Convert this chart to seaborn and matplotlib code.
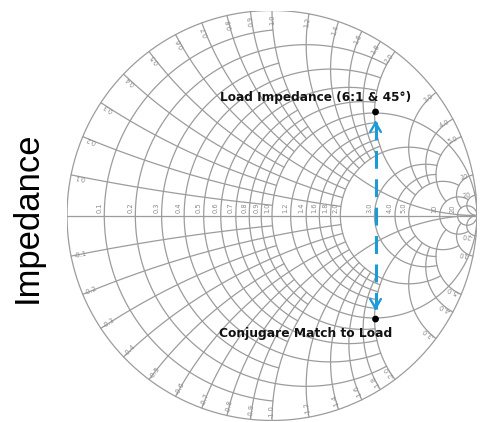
import numpy as np
import pandas as pd
import matplotlib
matplotlib.use("Agg")
import matplotlib.pyplot as plt
import seaborn as sns

# Normalized resistance circles / reactance arcs of the chart and the
# reactance (for circles) or resistance (for arcs) where each one stops.
r_values = [0.1, 0.2, 0.3, 0.4, 0.5, 0.6, 0.7, 0.8, 0.9, 1.0,
            1.2, 1.4, 1.6, 1.8, 2.0, 3.0, 4.0, 5.0, 10.0, 20.0]
r_stops = [1.0, 2.0, 1.0, 2.0, 1.0, 2.0, 1.0, 2.0, 1.0, 1e4,
           2.0, 2.0, 2.0, 2.0, 5.0, 5.0, 5.0, 10.0, 20.0, 1e4]
x_values = [0.1, 0.2, 0.3, 0.4, 0.5, 0.6, 0.7, 0.8, 0.9, 1.0,
            1.2, 1.4, 1.6, 1.8, 2.0, 3.0, 4.0, 5.0, 10.0, 20.0]
x_stops = [1.0, 2.0, 1.0, 2.0, 1.0, 2.0, 1.0, 2.0, 1.0, 1e4,
           2.0, 2.0, 2.0, 2.0, 5.0, 5.0, 5.0, 10.0, 20.0, 1e4]
scale_labels = ["0.1", "0.2", "0.3", "0.4", "0.5", "0.6", "0.7", "0.8", "0.9", "1.0",
                "1.2", "1.4", "1.6", "1.8", "2.0", "3.0", "4.0", "5.0", "10", "20"]

# Load point: VSWR 6:1 at a reflection angle of 45 degrees, and its conjugate
load_vswr = 6.0
load_angle_deg = 45.0
load_text = "Load Impedance (6:1 & 45°)"
match_text = "Conjugare Match to Load"

GRID = "#9c9c9c"
LABEL = "#8a8a8a"
BLUE = "#1e9ad6"

W, H = 481, 422


def gamma(z):
    return (z - 1) / (z + 1)


def param(limit, n=400):
    # parameter samples dense near zero, reaching out to the given limit
    u = np.linspace(0, np.arctan(limit), n)
    return np.tan(u)


rows = []
cid = 0
for r, stop in zip(r_values, r_stops):
    t = param(stop)
    t = np.concatenate([-t[::-1], t[1:]])
    g = gamma(r + 1j * t)
    rows.append(pd.DataFrame({"gx": g.real, "gy": g.imag, "curve": cid}))
    cid += 1
for x, stop in zip(x_values, x_stops):
    s = param(stop)
    for sign in (1, -1):
        g = gamma(s + 1j * sign * x)
        rows.append(pd.DataFrame({"gx": g.real, "gy": g.imag, "curve": cid}))
        cid += 1
ang = np.linspace(0, 2 * np.pi, 721)
rows.append(pd.DataFrame({"gx": np.cos(ang), "gy": np.sin(ang), "curve": cid}))
cid += 1
rows.append(pd.DataFrame({"gx": [-1.0, 1.0], "gy": [0.0, 0.0], "curve": cid}))
grid = pd.concat(rows, ignore_index=True)

sns.set_theme(style="white")
fig = plt.figure(figsize=(W / 100, H / 100), dpi=100)
ax = fig.add_axes([67 / W, 1.5 / H, 410 / W, 410 / H])
ax.set_xlim(-1, 1)
ax.set_ylim(-1, 1)
ax.axis("off")

sns.lineplot(data=grid, x="gx", y="gy", units="curve", estimator=None, sort=False,
             color=GRID, linewidth=0.9, ax=ax, legend=False, zorder=1)

# resistance scale along the real axis
for r, lab in zip(r_values, scale_labels):
    gx = gamma(r).real
    ax.text(gx - 0.010, 0.012, lab, rotation=90, ha="right", va="bottom",
            fontsize=4.8, color=LABEL, family="DejaVu Sans")

# reactance scale around the rim
for x, lab in zip(x_values, scale_labels):
    for sign in (1, -1):
        g = gamma(1j * sign * x)
        th = np.degrees(np.angle(g))
        rad = 0.955
        px, py = rad * np.cos(np.radians(th)), rad * np.sin(np.radians(th))
        rot = th if sign > 0 else th + 180
        text = lab if sign > 0 else "-" + lab
        ax.text(px, py, text, rotation=rot, rotation_mode="anchor",
                ha="center", va="center", fontsize=4.8, color=LABEL)

# load point and its conjugate
mag = (load_vswr - 1) / (load_vswr + 1)
gl = mag * np.exp(1j * np.radians(load_angle_deg))
pts = pd.DataFrame({"gx": [gl.real, gl.real], "gy": [gl.imag, -gl.imag]})
ax.plot([gl.real, gl.real], [gl.imag - 0.05, -gl.imag + 0.05], color=BLUE,
        lw=1.6 * 100 / 72, dashes=(5.8, 3.4), zorder=3)
for sgn in (1, -1):
    ax.annotate("", xy=(gl.real, sgn * (gl.imag - 0.028)),
                xytext=(gl.real, sgn * (gl.imag - 0.075)),
                arrowprops=dict(arrowstyle="->,head_length=0.55,head_width=0.32",
                                color=BLUE, lw=1.7), zorder=3)
sns.scatterplot(data=pts, x="gx", y="gy", color="black", s=24, ax=ax,
                zorder=4, edgecolor="none")


def fit_text(x_px, y_px, s, width_px, **kw):
    # place text centred at a pixel position, scaled to a given pixel width
    t = fig.text(x_px / W, 1 - y_px / H, s, ha="center", va="center", **kw)
    fig.canvas.draw()
    bb = t.get_window_extent()
    span = bb.height if kw.get("rotation", 0) == 90 else bb.width
    t.set_fontsize(t.get_fontsize() * width_px / span)
    return t


fit_text(316, 97, load_text, 192, fontsize=9, fontweight="bold",
         family="DejaVu Sans", color="#111111")
fit_text(305.5, 333, match_text, 173, fontsize=9, fontweight="bold",
         family="DejaVu Sans", color="#111111")
fit_text(27, 217.5, "Impedance", 171, fontsize=24, rotation=90,
         family="Liberation Sans", color="black")

fig.savefig("out.png", dpi=100)
